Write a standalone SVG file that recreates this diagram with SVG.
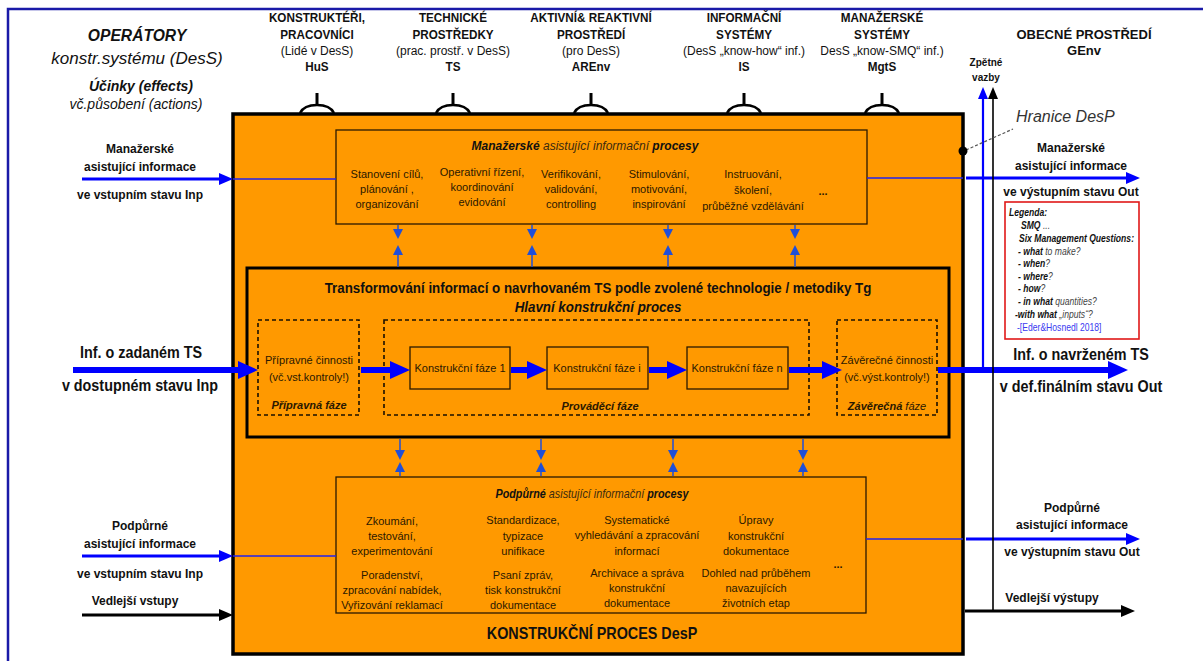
<svg xmlns="http://www.w3.org/2000/svg" width="1203" height="661" viewBox="0 0 1203 661" xml:space="preserve">
<style>
text { font-family: "Liberation Sans", Arial, sans-serif; fill: #111; }
.m { text-anchor: middle; }
.h { font-size: 13px; font-weight: bold; text-anchor: middle; }
.hs { font-size: 12px; text-anchor: middle; }
.it { font-size: 11px; text-anchor: middle; fill: #2a1800; }
.lbl { font-size: 12px; font-weight: bold; text-anchor: middle; }
.big { font-size: 16.5px; font-weight: bold; text-anchor: middle; }
.bi { font-weight: bold; font-style: italic; }
.i { font-style: italic; }
.ig { font-style: italic; fill: #3a2a10; }
.lg { font-size: 10px; }
.lgg { font-style: italic; fill: #444; }
.sx87 { transform-box: fill-box; transform-origin: center; transform: scaleX(0.87); }
.sx92 { transform-box: fill-box; transform-origin: center; transform: scaleX(0.92); }
.sx90 { transform-box: fill-box; transform-origin: center; transform: scaleX(0.9); }
.sxl { transform-box: fill-box; transform-origin: left center; transform: scaleX(0.86); }
.thick { stroke: #0000ff; stroke-width: 6; fill: none; }
.med { stroke: #0000ff; stroke-width: 3; fill: none; }
.thin { stroke: #2222ee; stroke-width: 1.3; fill: none; }
.blk { stroke: #000; stroke-width: 3; fill: none; }
.sm { stroke: #1f4fd8; stroke-width: 1.5; fill: none; }
.box { fill: none; stroke: #2a1a00; stroke-width: 1.3; }
.dash { fill: none; stroke: #1a1000; stroke-width: 1.6; stroke-dasharray: 4 3; }
.stem { stroke: #000; stroke-width: 3; fill: none; }
.arc { stroke: #000; stroke-width: 2.5; fill: none; }
</style>
<defs>
<marker id="hb" markerUnits="userSpaceOnUse" viewBox="0 0 20 18" markerWidth="20" markerHeight="18" refX="8" refY="9" orient="auto"><path d="M0,0 L20,9 L0,18 Z" fill="#0000ff"/></marker>
<marker id="hm" markerUnits="userSpaceOnUse" viewBox="0 0 14 12" markerWidth="14" markerHeight="12" refX="5" refY="6" orient="auto"><path d="M0,0 L14,6 L0,12 Z" fill="#0000ff"/></marker>
<marker id="hk" markerUnits="userSpaceOnUse" viewBox="0 0 14 12" markerWidth="14" markerHeight="12" refX="5" refY="6" orient="auto"><path d="M0,0 L14,6 L0,12 Z" fill="#000"/></marker>
<marker id="hs" markerUnits="userSpaceOnUse" viewBox="0 0 10 10" markerWidth="10" markerHeight="10" refX="2" refY="5" orient="auto"><path d="M0,0 L10,5 L0,10 Z" fill="#1f4fd8"/></marker>
<marker id="hv" markerUnits="userSpaceOnUse" viewBox="0 0 12 10" markerWidth="12" markerHeight="10" refX="3" refY="5" orient="auto"><path d="M0,0 L12,5 L0,10 Z" fill="#0000ff"/></marker>
<marker id="hvk" markerUnits="userSpaceOnUse" viewBox="0 0 12 10" markerWidth="12" markerHeight="10" refX="3" refY="5" orient="auto"><path d="M0,0 L12,5 L0,10 Z" fill="#000"/></marker>
</defs>

<rect x="8" y="9" width="1220" height="700" fill="#fff" stroke="#1a1aa8" stroke-width="2.5"/>

<g id="header">
<text x="137" y="41" class="m bi sx92" font-size="17">OPERÁTORY</text>
<text x="137" y="64" class="m i" font-size="17">konstr.systému (DesS)</text>
<text x="141" y="91" class="m bi" font-size="14">Účinky  (effects)</text>
<text x="136" y="109" class="m i" font-size="14">vč.působení (actions)</text>
</g>

<g id="op-hus">
<text x="317" y="22" class="h sx90">KONSTRUKTÉŘI,</text>
<text x="317" y="39" class="h sx90">PRACOVNÍCI</text>
<text x="317" y="55" class="hs">(Lidé v DesS)</text>
<text x="317" y="71" class="h sx90">HuS</text>
<path class="stem" d="M317,93 V106"/><path class="arc" d="M300,113 Q304,105 317,105 Q330,105 334,113"/>
</g>
<g id="op-ts">
<text x="453" y="22" class="h sx90">TECHNICKÉ</text>
<text x="453" y="39" class="h sx90">PROSTŘEDKY</text>
<text x="453" y="55" class="hs">(prac. prostř. v DesS)</text>
<text x="453" y="71" class="h sx90">TS</text>
<path class="stem" d="M453,93 V106"/><path class="arc" d="M436,113 Q440,105 453,105 Q466,105 470,113"/>
</g>
<g id="op-arenv">
<text x="591" y="22" class="h sx90">AKTIVNÍ&amp; REAKTIVNÍ</text>
<text x="591" y="39" class="h sx90">PROSTŘEDÍ</text>
<text x="591" y="55" class="hs">(pro DesS)</text>
<text x="591" y="71" class="h sx90">AREnv</text>
<path class="stem" d="M591,93 V106"/><path class="arc" d="M574,113 Q578,105 591,105 Q604,105 608,113"/>
</g>
<g id="op-is">
<text x="744" y="22" class="h sx90">INFORMAČNÍ</text>
<text x="744" y="39" class="h sx90">SYSTÉMY</text>
<text x="744" y="55" class="hs">(DesS „know-how“ inf.)</text>
<text x="744" y="71" class="h sx90">IS</text>
<path class="stem" d="M744,93 V106"/><path class="arc" d="M727,113 Q731,105 744,105 Q757,105 761,113"/>
</g>
<g id="op-mgts">
<text x="882" y="22" class="h sx90">MANAŽERSKÉ</text>
<text x="882" y="39" class="h sx90">SYSTÉMY</text>
<text x="882" y="55" class="hs">DesS „know-SMQ“ inf.)</text>
<text x="882" y="71" class="h sx90">MgtS</text>
<path class="stem" d="M882,93 V106"/><path class="arc" d="M865,113 Q869,105 882,105 Q895,105 899,113"/>
</g>
<g id="genv">
<text x="1084" y="39" class="h">OBECNÉ PROSTŘEDÍ</text>
<text x="1084" y="55" class="h">GEnv</text>
<text x="986" y="66" class="m" font-size="10" font-weight="bold">Zpětné</text>
<text x="986" y="81" class="m" font-size="10" font-weight="bold">vazby</text>
<text x="1016" y="122" class="i" font-size="16" style="fill:#333">Hranice DesP</text>
</g>

<g id="desp">
<rect x="233" y="114" width="730" height="540" fill="#ff9900" stroke="#000" stroke-width="3.5"/>
<text x="592" y="639" class="big sx87">KONSTRUKČNÍ PROCES  DesP</text>
</g>

<g id="mgmt">
<rect class="box" x="336" y="130" width="531" height="94"/>
<text x="585" y="150" class="m" font-size="12"><tspan class="bi">Manažerské</tspan><tspan class="ig">  asistující   informační  </tspan><tspan class="bi">procesy</tspan></text>
<text class="it" x="387" y="178">Stanovení  cílů,</text><text class="it" x="387" y="193">plánování  ,</text><text class="it" x="387" y="208">organizování</text>
<text class="it" x="482" y="176">Operativní řízení,</text><text class="it" x="482" y="191">koordinování</text><text class="it" x="482" y="206">evidování</text>
<text class="it" x="571" y="178">Verifikování,</text><text class="it" x="571" y="193">validování,</text><text class="it" x="571" y="208">controlling</text>
<text class="it" x="659" y="178">Stimulování,</text><text class="it" x="659" y="193">motivování,</text><text class="it" x="659" y="208">inspirování</text>
<text class="it" x="753" y="178">Instruování,</text><text class="it" x="753" y="194">školení,</text><text class="it" x="753" y="210">průběžné vzdělávání</text>
<text class="it" x="823" y="195" font-weight="bold">...</text>
</g>

<g id="transform">
<rect x="247" y="268" width="702" height="169" fill="none" stroke="#000" stroke-width="3"/>
<text x="598" y="293" class="m sx92" font-size="14.5" font-weight="bold">Transformování  informací  o navrhovaném  TS podle  zvolené technologie / metodiky  Tg</text>
<text x="598" y="312" class="m bi sx92" font-size="14.5">Hlavní   konstrukční    proces</text>
</g>

<g id="pripravna">
<rect class="dash" x="258" y="320" width="101" height="95"/>
<text class="it" x="309" y="364">Přípravné  činnosti</text>
<text class="it" x="309" y="381">(vč.vst.kontroly!)</text>
<text class="it bi" x="309" y="409">Přípravná  fáze</text>
</g>
<g id="provadeci">
<rect class="dash" x="384" y="320" width="425" height="95"/>
<text class="it bi" x="600" y="410">Prováděcí  fáze</text>
</g>
<g id="faze1">
<rect class="box" x="410" y="347" width="100" height="42"/>
<text class="it" x="460" y="372">Konstrukční fáze  1</text>
</g>
<g id="fazei">
<rect class="box" x="547" y="347" width="101" height="42"/>
<text class="it" x="597" y="372">Konstrukční fáze  i</text>
</g>
<g id="fazen">
<rect class="box" x="687" y="347" width="101" height="42"/>
<text class="it" x="737" y="372">Konstrukční fáze n</text>
</g>
<g id="zaverecna">
<rect class="dash" x="837" y="320" width="100" height="95"/>
<text class="it" x="887" y="364">Závěrečné  činnosti</text>
<text class="it" x="887" y="381">(vč.výst.kontroly!)</text>
<text class="it" x="887" y="410"><tspan class="bi">Závěrečná</tspan><tspan class="i"> fáze</tspan></text>
</g>

<g id="support">
<rect class="box" x="336" y="477" width="530" height="136"/>
<text x="592" y="498" class="m sx90" font-size="12"><tspan class="bi">Podpůrné</tspan><tspan class="ig">  asistující   informační  </tspan><tspan class="bi">procesy</tspan></text>
<text class="it" x="392" y="525">Zkoumání,</text><text class="it" x="392" y="540">testování,</text><text class="it" x="392" y="555">experimentování</text>
<text class="it" x="392" y="579">Poradenství,</text><text class="it" x="392" y="594">zpracování  nabídek,</text><text class="it" x="392" y="609">Vyřizování  reklamací</text>
<text class="it" x="523" y="524">Standardizace,</text><text class="it" x="523" y="540">typizace</text><text class="it" x="523" y="555">unifikace</text>
<text class="it" x="523" y="579">Psaní zpráv,</text><text class="it" x="523" y="594">tisk konstrukční</text><text class="it" x="523" y="609">dokumentace</text>
<text class="it" x="637" y="524">Systematické</text><text class="it" x="637" y="539">vyhledávání   a zpracování</text><text class="it" x="637" y="555">informací</text>
<text class="it" x="637" y="577">Archivace  a správa</text><text class="it" x="637" y="592">konstrukční</text><text class="it" x="637" y="607">dokumentace</text>
<text class="it" x="756" y="524">Úpravy</text><text class="it" x="756" y="540">konstrukční</text><text class="it" x="756" y="555">dokumentace</text>
<text class="it" x="756" y="577">Dohled nad průběhem</text><text class="it" x="756" y="592">navazujících</text><text class="it" x="756" y="607">životních etap</text>
<text class="it" x="838" y="568" font-weight="bold">...</text>
</g>

<g id="labels">
<text class="lbl" x="140" y="153">Manažerské</text>
<text class="lbl" x="140" y="171">asistující   informace</text>
<text class="lbl" x="140" y="199">ve vstupním stavu Inp</text>
<text class="big sx87" x="141" y="358">Inf. o zadaném TS</text>
<text class="big sx87" x="140" y="391">v dostupném stavu Inp</text>
<text class="lbl" x="140" y="530">Podpůrné</text>
<text class="lbl" x="140" y="548">asistující informace</text>
<text class="lbl" x="140" y="578">ve vstupním stavu Inp</text>
<text class="lbl" x="135" y="605">Vedlejší vstupy</text>
<text class="lbl" x="1071" y="152">Manažerské</text>
<text class="lbl" x="1071" y="170">asistující   informace</text>
<text class="lbl" x="1071" y="196">ve výstupním stavu Out</text>
<text class="big sx87" x="1081" y="360">Inf. o navrženém TS</text>
<text class="big sx87" x="1081" y="392">v def.finálním stavu Out</text>
<text class="lbl" x="1072" y="512">Podpůrné</text>
<text class="lbl" x="1072" y="529">asistující informace</text>
<text class="lbl" x="1072" y="556">ve výstupním stavu Out</text>
<text class="lbl" x="1052" y="602">Vedlejší výstupy</text>
</g>

<g id="legend">
<rect x="1005" y="202" width="134" height="137" fill="#fff" stroke="#e01818" stroke-width="1.6"/>
<text class="lg bi sxl" x="1009" y="216">Legenda:</text>
<text class="lg sxl" x="1021" y="229"><tspan class="bi">SMQ</tspan><tspan class="lgg">  ...</tspan></text>
<text class="lg bi sxl" x="1019" y="242">Six Management  Questions:</text>
<text class="lg sxl" x="1018" y="255"><tspan class="bi">- what</tspan><tspan class="lgg">  to make?</tspan></text>
<text class="lg sxl" x="1018" y="267"><tspan class="bi">- when</tspan><tspan class="lgg">?</tspan></text>
<text class="lg sxl" x="1018" y="280"><tspan class="bi">- where</tspan><tspan class="lgg">?</tspan></text>
<text class="lg sxl" x="1018" y="292"><tspan class="bi">- how</tspan><tspan class="lgg">?</tspan></text>
<text class="lg sxl" x="1018" y="305"><tspan class="bi">- in what</tspan><tspan class="lgg">  quantities?</tspan></text>
<text class="lg sxl" x="1015" y="318"><tspan class="bi">-with what</tspan><tspan class="lgg">  „inputs“?</tspan></text>
<text class="lg sxl" x="1017" y="331" style="fill:#3a3af0">-[Eder&amp;Hosnedl 2018]</text>
</g>

<g id="connectors">
<line class="med" x1="82" y1="179" x2="224" y2="179" marker-end="url(#hm)"/>
<line class="thin" x1="233" y1="179" x2="336" y2="179"/>
<line class="thin" x1="867" y1="178" x2="963" y2="178"/>
<line class="med" x1="966" y1="178" x2="1131" y2="178" marker-end="url(#hm)"/>

<line class="thick" x1="73" y1="370" x2="246" y2="370" marker-end="url(#hb)"/>
<line class="thick" x1="361" y1="370" x2="398" y2="370" marker-end="url(#hb)"/>
<line class="thick" x1="511" y1="370" x2="535" y2="370" marker-end="url(#hb)"/>
<line class="thick" x1="649" y1="370" x2="675" y2="370" marker-end="url(#hb)"/>
<line class="thick" x1="789" y1="370" x2="830" y2="370" marker-end="url(#hb)"/>
<line class="thick" x1="938" y1="370" x2="1116" y2="370" marker-end="url(#hb)"/>

<line class="med" x1="82" y1="556" x2="224" y2="556" marker-end="url(#hm)"/>
<line class="thin" x1="233" y1="556" x2="336" y2="556"/>
<line class="thin" x1="866" y1="539" x2="963" y2="539"/>
<line class="med" x1="966" y1="539" x2="1131" y2="539" marker-end="url(#hm)"/>

<line class="blk" x1="82" y1="615" x2="224" y2="615" marker-end="url(#hk)"/>
<line class="blk" x1="965" y1="611" x2="1126" y2="611" marker-end="url(#hk)"/>

<line stroke="#0000ff" stroke-width="2.2" x1="983" y1="369" x2="983" y2="96" marker-end="url(#hv)"/>
<line stroke="#000" stroke-width="1.6" x1="993" y1="611" x2="993" y2="96" marker-end="url(#hvk)"/>

<line stroke="#555" stroke-width="1.2" stroke-dasharray="3 2" x1="966" y1="150" x2="1013" y2="129"/>
<circle cx="963" cy="151" r="4.5" fill="#000"/>

<line class="sm" x1="398" y1="225" x2="398" y2="231" marker-end="url(#hs)"/>
<line class="sm" x1="532" y1="225" x2="532" y2="231" marker-end="url(#hs)"/>
<line class="sm" x1="668" y1="225" x2="668" y2="231" marker-end="url(#hs)"/>
<line class="sm" x1="795" y1="225" x2="795" y2="231" marker-end="url(#hs)"/>
<line class="sm" x1="398" y1="267" x2="398" y2="253" marker-end="url(#hs)"/>
<line class="sm" x1="532" y1="267" x2="532" y2="253" marker-end="url(#hs)"/>
<line class="sm" x1="668" y1="267" x2="668" y2="253" marker-end="url(#hs)"/>
<line class="sm" x1="795" y1="267" x2="795" y2="253" marker-end="url(#hs)"/>

<line class="sm" x1="400" y1="439" x2="400" y2="452" marker-end="url(#hs)"/>
<line class="sm" x1="541" y1="439" x2="541" y2="452" marker-end="url(#hs)"/>
<line class="sm" x1="673" y1="439" x2="673" y2="452" marker-end="url(#hs)"/>
<line class="sm" x1="803" y1="439" x2="803" y2="452" marker-end="url(#hs)"/>
<line class="sm" x1="400" y1="476" x2="400" y2="470" marker-end="url(#hs)"/>
<line class="sm" x1="541" y1="476" x2="541" y2="470" marker-end="url(#hs)"/>
<line class="sm" x1="673" y1="476" x2="673" y2="470" marker-end="url(#hs)"/>
<line class="sm" x1="803" y1="476" x2="803" y2="470" marker-end="url(#hs)"/>
</g>
</svg>
